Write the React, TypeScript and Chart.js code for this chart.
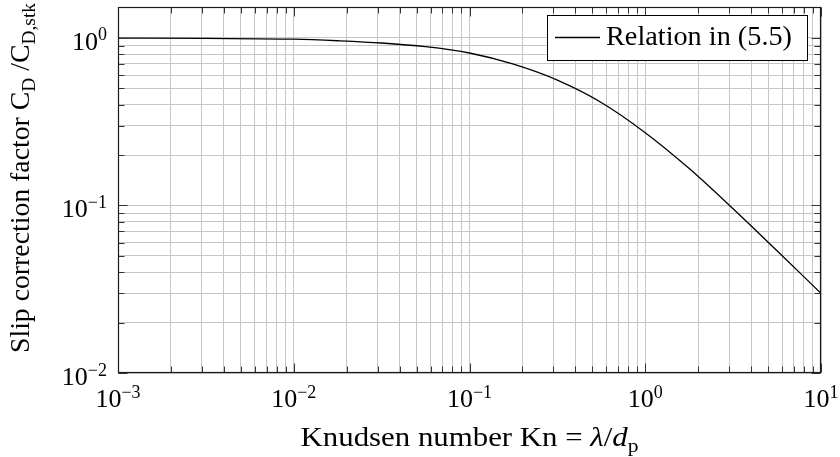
import React, { useEffect, useRef } from 'react';
import { Chart, registerables } from 'chart.js';

Chart.register(...registerables);

// Knudsen number values (x) and slip correction factor C_D / C_D,stk (y)
const KN = [0.001, 0.00316, 0.01, 0.0178, 0.0316, 0.0562, 0.1, 0.178, 0.316, 0.562, 1, 1.78, 3.16, 5.62, 10];
const SLIP = [0.998, 0.993, 0.983, 0.962, 0.933, 0.887, 0.813, 0.697, 0.56, 0.412, 0.272, 0.166, 0.0955, 0.0536, 0.0299];

// Major tick values and their exponent labels
const X_MAJOR = [0.001, 0.01, 0.1, 1, 10];
const X_EXP = ['\u22123', '\u22122', '\u22121', '0', '1'];
const Y_MAJOR = [0.01, 0.1, 1];
const Y_EXP = ['\u22122', '\u22121', '0'];

const X_MIN = 0.001;
const X_MAX = 10;
const Y_MIN = 0.01;
const Y_MAX = 1.53;

const LEGEND_LABEL = 'Relation in (5.5)';
const FAMILY = '"Liberation Serif", "DejaVu Serif", serif';

type Run = { t: string; it?: boolean; sub?: boolean; sup?: boolean };

function decadeTicks(lo: number, hi: number, max: number): number[] {
  const out: number[] = [];
  for (let e = lo; e <= hi; e++) {
    for (let m = 1; m < 10; m++) {
      const v = parseFloat((m * Math.pow(10, e)).toPrecision(6));
      if (v <= max * 1.000001) out.push(v);
    }
  }
  return out;
}

function isMajor(v: number, majors: number[]) {
  return majors.some((m) => Math.abs(Math.log10(v) - Math.log10(m)) < 1e-6);
}

function drawRuns(
  ctx: CanvasRenderingContext2D,
  runs: Run[],
  x: number,
  y: number,
  size: number,
  align: 'left' | 'center' | 'right',
  opts: { rotate?: number; targetWidth?: number; supSize?: number; supRaise?: number } = {}
) {
  const small = opts.supSize ?? size * 0.7;
  const fontFor = (r: Run) => `${r.it ? 'italic ' : ''}${r.sub || r.sup ? small : size}px ${FAMILY}`;
  let total = 0;
  const ws = runs.map((r) => {
    ctx.font = fontFor(r);
    const w = ctx.measureText(r.t).width;
    total += w;
    return w;
  });
  const sx = opts.targetWidth ? opts.targetWidth / total : 1;
  ctx.save();
  ctx.translate(x, y);
  if (opts.rotate) ctx.rotate(opts.rotate);
  ctx.scale(sx, 1);
  ctx.textBaseline = 'alphabetic';
  ctx.textAlign = 'left';
  ctx.fillStyle = '#000';
  let cx = align === 'left' ? 0 : align === 'center' ? -total / 2 : -total;
  runs.forEach((r, i) => {
    ctx.font = fontFor(r);
    const dy = r.sub ? size * 0.22 : r.sup ? -(opts.supRaise ?? size * 0.36) : 0;
    ctx.fillText(r.t, cx, dy);
    cx += ws[i];
  });
  ctx.restore();
}

const decorPlugin = {
  id: 'decor',
  afterDraw(chart: any) {
    const ctx: CanvasRenderingContext2D = chart.ctx;
    const { left, right, top, bottom } = chart.chartArea;
    const xs = chart.scales.x;
    const ys = chart.scales.y;
    const L = Math.round(left) + 0.5;
    const R = Math.round(right) - 0.5;
    const T = Math.round(top) + 0.5;
    const B = Math.round(bottom) - 0.5;

    // tick marks (inward, all four sides)
    ctx.save();
    ctx.strokeStyle = '#333';
    ctx.lineWidth = 1;
    ctx.beginPath();
    decadeTicks(-3, 1, X_MAX).forEach((v) => {
      const len = isMajor(v, X_MAJOR) ? 9 : 6;
      const px = Math.round(xs.getPixelForValue(v)) + 0.5;
      ctx.moveTo(px, B);
      ctx.lineTo(px, B - len);
      ctx.moveTo(px, T);
      ctx.lineTo(px, T + len);
    });
    decadeTicks(-2, 0, Y_MAX).forEach((v) => {
      const len = isMajor(v, Y_MAJOR) ? 9 : 6;
      const py = Math.round(ys.getPixelForValue(v)) + 0.5;
      ctx.moveTo(L, py);
      ctx.lineTo(L + len, py);
      ctx.moveTo(R, py);
      ctx.lineTo(R - len, py);
    });
    ctx.stroke();

    // frame
    ctx.strokeStyle = '#1a1a1a';
    ctx.lineWidth = 1.2;
    ctx.strokeRect(L, T, R - L, B - T);
    ctx.restore();

    // tick labels
    X_MAJOR.forEach((v, i) => {
      const px = xs.getPixelForValue(v);
      drawRuns(ctx, [{ t: '10' }, { t: X_EXP[i], sup: true }], px, 407, 26, 'center', { supSize: 18, supRaise: 9.5 });
    });
    Y_MAJOR.forEach((v, i) => {
      const py = ys.getPixelForValue(v);
      drawRuns(ctx, [{ t: '10' }, { t: Y_EXP[i], sup: true }], 107, py + 12, 26, 'right', { supSize: 18, supRaise: 9.5 });
    });

    // axis titles
    drawRuns(
      ctx,
      [{ t: 'Knudsen number Kn = ' }, { t: '\u03bb', it: true }, { t: '/' }, { t: 'd', it: true }, { t: 'p', sub: true }],
      (left + right) / 2,
      446,
      27,
      'center',
      { targetWidth: 338 }
    );
    drawRuns(
      ctx,
      [
        { t: 'Slip correction factor C' },
        { t: 'D', sub: true },
        { t: ' /C' },
        { t: 'D,stk', sub: true },
      ],
      29,
      178,
      27,
      'center',
      { rotate: -Math.PI / 2, targetWidth: 350 }
    );

    // legend
    ctx.save();
    ctx.fillStyle = '#fff';
    ctx.fillRect(547, 15, 260, 45);
    ctx.strokeStyle = '#000';
    ctx.lineWidth = 1;
    ctx.strokeRect(547.5, 15.5, 260, 45);
    ctx.beginPath();
    ctx.lineWidth = 1.3;
    ctx.moveTo(555, 37.5);
    ctx.lineTo(600, 37.5);
    ctx.stroke();
    ctx.restore();
    drawRuns(ctx, [{ t: LEGEND_LABEL }], 606, 44.5, 27.5, 'left', { targetWidth: 186 });
  },
};

export default function App() {
  const ref = useRef<HTMLCanvasElement>(null);

  useEffect(() => {
    const canvas = ref.current;
    if (!canvas) return;
    const xTickVals = decadeTicks(-3, 1, X_MAX);
    const yTickVals = decadeTicks(-2, 0, Y_MAX);
    const chart = new Chart(canvas, {
      type: 'line',
      data: {
        datasets: [
          {
            label: LEGEND_LABEL,
            data: KN.map((k, i) => ({ x: k, y: SLIP[i] })),
            borderColor: '#000',
            borderWidth: 1.3,
            pointRadius: 0,
            fill: false,
            cubicInterpolationMode: 'monotone',
          },
        ],
      },
      options: {
        animation: false,
        responsive: false,
        devicePixelRatio: 1,
        layout: { padding: { left: 0, top: 7, right: 19, bottom: 0 } },
        plugins: { legend: { display: false }, tooltip: { enabled: false } },
        scales: {
          x: {
            type: 'logarithmic',
            min: X_MIN,
            max: X_MAX,
            afterBuildTicks: (s: any) => {
              s.ticks = xTickVals.map((v) => ({ value: v, major: isMajor(v, X_MAJOR) }));
            },
            afterFit: (s: any) => {
              s.height = 84;
            },
            ticks: { display: false },
            border: { display: false },
            grid: { color: '#c6c6c6', lineWidth: 1, drawTicks: false },
          },
          y: {
            type: 'logarithmic',
            min: Y_MIN,
            max: Y_MAX,
            afterBuildTicks: (s: any) => {
              s.ticks = yTickVals.map((v) => ({ value: v, major: isMajor(v, Y_MAJOR) }));
            },
            afterFit: (s: any) => {
              s.width = 118;
            },
            ticks: { display: false },
            border: { display: false },
            grid: { color: '#c6c6c6', lineWidth: 1, drawTicks: false },
          },
        },
      } as any,
      plugins: [decorPlugin],
    });
    return () => chart.destroy();
  }, []);

  return (
    <div style={{ position: 'absolute', left: 0, top: 0, width: 840, height: 457, background: '#fff' }}>
      <canvas ref={ref} width={840} height={457} style={{ width: 840, height: 457, display: 'block' }} />
    </div>
  );
}
